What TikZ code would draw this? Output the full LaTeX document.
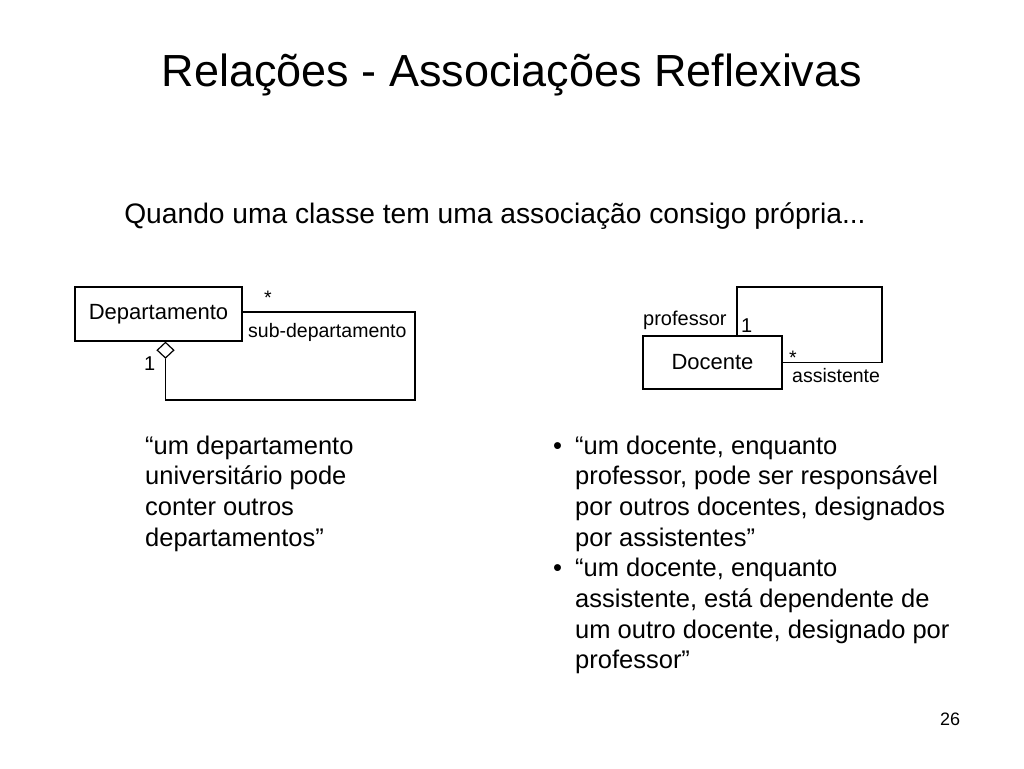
\documentclass[tikz,border=0pt]{standalone}
\usepackage{fontspec}
\setmainfont{Liberation Sans}
\usetikzlibrary{shapes.geometric}
\begin{document}
\begin{tikzpicture}[x=1pt,y=-1pt,
  txt/.style={inner sep=0pt,anchor=base west},
  body/.style={txt,font=\fontsize{25.5}{30}\selectfont},
  lbl/.style={txt,font=\fontsize{19.5}{23}\selectfont},
  classbox/.style={draw,line width=1.2pt,inner sep=0pt,font=\fontsize{22}{26}\selectfont},
  assoc/.style={line width=1.2pt}]
\useasboundingbox[fill=white] (0,0) rectangle (1024,768);
% title
\node[inner sep=0pt,anchor=base,font=\fontsize{45}{50}\selectfont] (title) at (512,86) {Relações - Associações Reflexivas};
\node[inner sep=0pt,anchor=base,font=\fontsize{28.2}{32}\selectfont] (sub) at (495,223) {Quando uma classe tem uma associação consigo própria...};
% left diagram
\node[classbox,minimum width=167pt,minimum height=54pt] (dept) at (158.5,314) {Departamento};
\node[diamond,draw,line width=1.2pt,fill=white,inner sep=0pt,minimum width=17pt,minimum height=16pt,anchor=north] (agg) at ([xshift=7pt]dept.south) {};
\coordinate (ltr) at (415,312);
\coordinate (lbr) at (415,400);
\draw[assoc] (dept.east |- ltr) -- (ltr) -- (lbr) -| (agg.south);
\node[lbl] (lstar) at (264,304) {*};
\node[lbl] (lrole) at (248,337) {sub-departamento};
\node[lbl,font=\fontsize{20}{24}\selectfont] (lone) at (144,370) {1};
% right diagram
\node[classbox,minimum width=139pt,minimum height=53pt] (doc) at (712.5,362.5) {Docente};
\coordinate (rtr) at (882,287);
\draw[assoc] ([xshift=24.5pt]doc.north) |- (rtr) |- (doc.east);
\node[lbl,font=\fontsize{20}{24}\selectfont] (rrole1) at (643,325) {professor};
\node[lbl,font=\fontsize{20}{24}\selectfont] (rone) at (741,332) {1};
\node[lbl] (rstar) at (789,364) {*};
\node[lbl] (rrole2) at (792,382) {assistente};
% left text
\node[body] (l1) at (145,454) {“um departamento};
\node[body] (l2) at (145,484.7) {universitário pode};
\node[body] (l3) at (145,515.4) {conter outros};
\node[body] (l4) at (145,546.1) {departamentos”};
% right text
\node[body] (b1) at (553,454) {•};
\node[body] (r1) at (575,454) {“um docente, enquanto};
\node[body] (r2) at (575,484.7) {professor, pode ser responsável};
\node[body] (r3) at (575,515.4) {por outros docentes, designados};
\node[body] (r4) at (575,546.1) {por assistentes”};
\node[body] (b2) at (553,576.8) {•};
\node[body] (r5) at (575,576.8) {“um docente, enquanto};
\node[body] (r6) at (575,607.5) {assistente, está dependente de};
\node[body] (r7) at (575,638.2) {um outro docente, designado por};
\node[body] (r8) at (575,668.9) {professor”};
% page number
\node[txt,font=\fontsize{18}{22}\selectfont] (pg) at (940,725) {26};
\end{tikzpicture}
\end{document}
